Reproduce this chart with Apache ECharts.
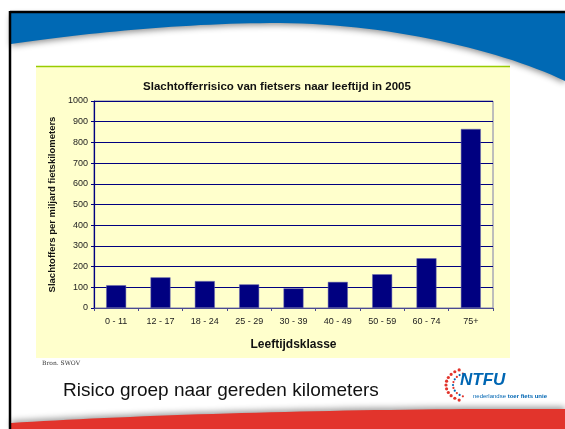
<!DOCTYPE html>
<html>
<head>
<meta charset="utf-8">
<script src="https://cdn.jsdelivr.net/npm/echarts@6/dist/echarts.min.js"></script>
<style>
  html, body { margin: 0; padding: 0; background: #fff; }
  #chart { width: 565px; height: 429px; }
</style>
</head>
<body>
<div id="chart"></div>
<script>
// leeftijdsklassen en slachtofferrisico (per miljard fietskilometers)
const categories = ['0 - 11', '12 - 17', '18 - 24', '25 - 29', '30 - 39', '40 - 49', '50 - 59', '60 - 74', '75+']
const risico = [110, 148, 130, 114, 95, 126, 163, 240, 865]
const yTicks = [0, 100, 200, 300, 400, 500, 600, 700, 800, 900, 1000]

const chart = echarts.init(document.getElementById('chart'))

// sample a cubic bezier into points (for the slide curves)
function bez(p0, p1, p2, p3, n) {
  const pts = []
  for (let i = 0; i <= n; i++) {
    const t = i / n, u = 1 - t
    pts.push([
      u * u * u * p0[0] + 3 * u * u * t * p1[0] + 3 * u * t * t * p2[0] + t * t * t * p3[0],
      u * u * u * p0[1] + 3 * u * u * t * p1[1] + 3 * u * t * t * p2[1] + t * t * t * p3[1],
    ])
  }
  return pts
}

const headerPts = [[11, 13], [565, 13]]
  .concat(bez([565, 81], [500, 50], [390, 24], [280, 23], 30))
  .concat(bez([280, 23], [180, 23], [80, 34], [11, 44], 30))
const footerPts = bez([11, 423], [150, 414], [380, 408], [565, 409], 40).concat([[565, 429], [11, 429]])

// logo dots
const logoDots = []
for (let i = 0; i < 11; i++) {
  const a = (110 + i * 14) * Math.PI / 180
  logoDots.push({ type: 'circle', shape: { cx: 466 + 20 * Math.cos(a), cy: 385 - 16 * Math.sin(a), r: 1.6 }, style: { fill: '#e2342c' } })
  logoDots.push({ type: 'circle', shape: { cx: 468 + 15 * Math.cos(a), cy: 385 - 12 * Math.sin(a), r: 1.1 }, style: { fill: i % 2 ? '#0066b3' : '#e2342c' } })
}

const labelFont = { fontFamily: 'Liberation Sans', fontSize: 9, color: '#222', fontWeight: 500 }

chart.setOption({
  animation: false,
  backgroundColor: '#ffffff',
  title: {
    text: 'Slachtofferrisico van fietsers naar leeftijd in 2005',
    left: 272,
    top: 76,
    textAlign: 'center',
    textStyle: { fontFamily: 'Liberation Sans', fontSize: 11.5, fontWeight: 'bold', color: '#111' },
  },
  graphic: [
    // yellow chart panel
    { type: 'rect', z: -10, shape: { x: 36, y: 66, width: 474, height: 292 }, style: { fill: '#ffffcc' } },
    { type: 'line', z: -9, shape: { x1: 36, y1: 66.5, x2: 510, y2: 66.5 }, style: { stroke: '#99cc00', lineWidth: 1.5 } },
    // header
    {
      type: 'polygon', z: -8,
      shape: { points: headerPts },
      style: { fill: '#0069b4', shadowBlur: 6, shadowColor: 'rgba(0,0,0,0.45)', shadowOffsetY: 2 },
    },
    // footer
    {
      type: 'polygon', z: -8,
      shape: { points: footerPts },
      style: { fill: '#e2342c', shadowBlur: 6, shadowColor: 'rgba(0,0,0,0.4)', shadowOffsetY: -2 },
    },
    // frame
    { type: 'line', z: 10, shape: { x1: 10, y1: 12, x2: 565, y2: 12 }, style: { stroke: '#000', lineWidth: 2.5 } },
    { type: 'line', z: 10, shape: { x1: 10, y1: 11, x2: 10, y2: 429 }, style: { stroke: '#000', lineWidth: 2.5 } },
    // texts
    { type: 'text', x: 42, y: 360, style: { text: 'Bron. SWOV', fontFamily: 'DejaVu Serif', fontSize: 6, fill: '#333' } },
    { type: 'text', x: 63, y: 381, style: { text: 'Risico groep naar gereden kilometers', fontFamily: 'Liberation Sans', fontSize: 19, fill: '#111' } },
    // logo
    ...logoDots,
    { type: 'text', x: 460, y: 372, style: { text: 'NTFU', fontFamily: 'Liberation Sans', fontSize: 17, fontWeight: 'bold', fontStyle: 'italic', fill: '#0066b3' } },
    {
      type: 'text', x: 473, y: 393,
      style: {
        text: '{a|nederlandse }{b|toer fiets unie}',
        rich: {
          a: { fontFamily: 'Liberation Sans', fontSize: 6, fill: '#0066b3', color: '#0066b3' },
          b: { fontFamily: 'Liberation Sans', fontSize: 6, fontWeight: 'bold', fill: '#0066b3', color: '#0066b3' },
        },
      },
    },
  ],
  grid: {
    left: 94, right: 72, top: 101, bottom: 121,
    show: true, backgroundColor: '#ffffcc', borderColor: '#7d7dab', borderWidth: 1,
  },
  xAxis: {
    type: 'category',
    data: categories,
    name: 'Leeftijdsklasse',
    nameLocation: 'middle',
    nameGap: 31,
    nameTextStyle: { fontFamily: 'Liberation Sans', fontSize: 12, fontWeight: 'bold', color: '#111' },
    axisLine: { lineStyle: { color: '#4a4a90', width: 1 } },
    axisTick: { show: true, inside: false, length: 3, lineStyle: { color: '#4a4a90' } },
    axisLabel: Object.assign({ margin: 9 }, labelFont),
  },
  yAxis: {
    type: 'value',
    min: 0,
    max: yTicks[yTicks.length - 1],
    interval: yTicks[1] - yTicks[0],
    name: 'Slachtoffers per miljard fietskilometers',
    nameLocation: 'middle',
    nameGap: 35,
    nameTextStyle: { fontFamily: 'Liberation Sans', fontSize: 9.5, fontWeight: 'bold', color: '#111' },
    axisLine: { show: true, lineStyle: { color: '#000080', width: 1.2 } },
    axisTick: { show: true, length: 3, lineStyle: { color: '#000080' } },
    axisLabel: Object.assign({ margin: 6, formatter: v => String(v) }, labelFont),
    splitLine: { show: true, lineStyle: { color: '#000080', width: 1 } },
  },
  series: [
    {
      type: 'bar',
      data: risico,
      barWidth: '45%',
      itemStyle: { color: '#000080', borderColor: '#6b6bb0', borderWidth: 0.5 },
    },
  ],
})
</script>
</body>
</html>
